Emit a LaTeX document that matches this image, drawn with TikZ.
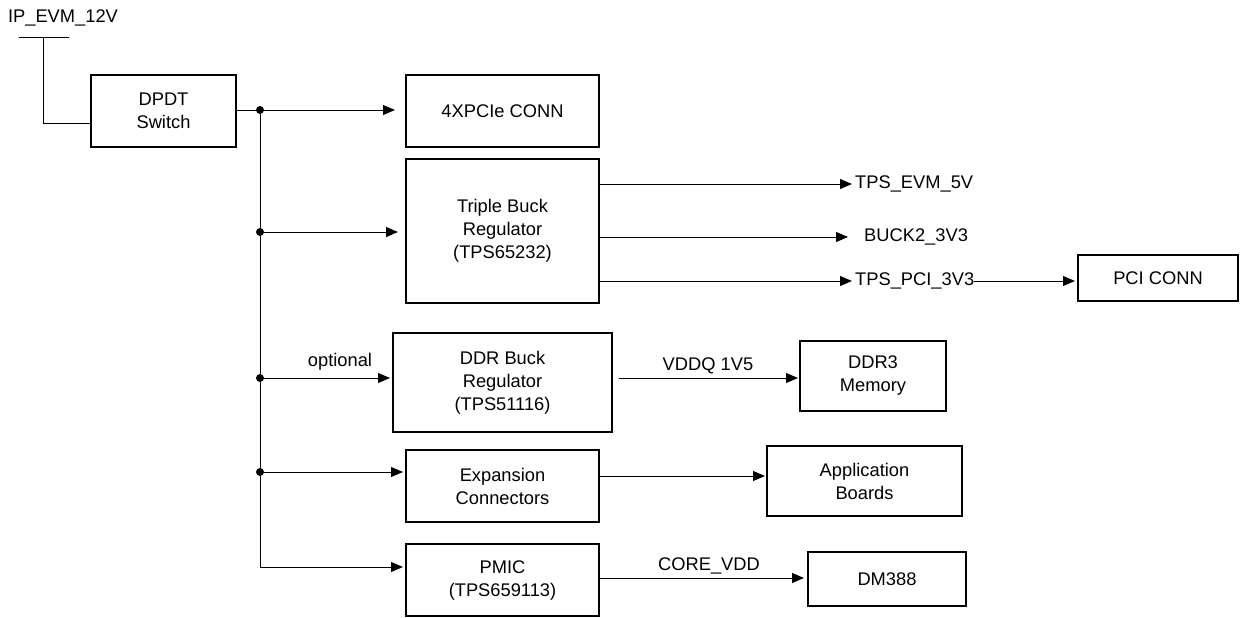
\documentclass[tikz,border=0pt]{standalone}
\usepackage{fontspec}
\setmainfont{Liberation Sans}
\usetikzlibrary{arrows.meta}
\begin{document}
\begin{tikzpicture}[x=1pt,y=-1pt,
  every node/.style={font=\fontsize{18.3}{23}\selectfont},
  box/.style={draw,line width=2pt,inner sep=0pt,outer sep=0pt,align=center},
  wire/.style={line width=1pt},
  arr/.style={wire,-{Triangle[length=12pt,width=10pt]}},
  dot/.style={circle,fill,inner sep=0pt,minimum size=8pt},
  lab/.style={inner sep=0pt}]
\useasboundingbox (0,0) rectangle (1240,618);

% boxes
\node[box,minimum width=145pt,minimum height=72pt] (dpdt) at (163.5,111) {DPDT\\Switch};
\node[box,minimum width=193pt,minimum height=72pt] (pcie) at (502.5,111) {4XPCIe CONN};
\node[box,minimum width=193pt,minimum height=144pt] (tbuck) at (502.5,231) {Triple Buck\\Regulator\\(TPS65232)};
\node[box,minimum width=160pt,minimum height=46pt] (pci) at (1158,278) {PCI CONN};
\node[box,minimum width=219pt,minimum height=99pt] (ddr) at (502.5,382.5) {DDR Buck\\Regulator\\(TPS51116)};
\node[box,minimum width=146pt,minimum height=70pt] (ddr3) at (873,376) {DDR3\\Memory};
\node[box,minimum width=193pt,minimum height=72pt] (exp) at (502.5,486) {Expansion\\Connectors};
\node[box,minimum width=195pt,minimum height=70pt] (app) at (864.5,481) {Application\\Boards};
\node[box,minimum width=193pt,minimum height=72pt] (pmic) at (502.5,580) {PMIC\\(TPS659113)};
\node[box,minimum width=158pt,minimum height=54pt] (dm) at (887,579) {DM388};

% input
\node[lab] (ipl) at (63,18) {IP\_EVM\_12V};
\coordinate (inL) at (19,38);
\coordinate (inR) at (69,38);
\coordinate (inT) at (43,38);
\coordinate (inB) at (43,123);
\draw[wire] (inL) -- (inR);
\draw[wire] (inT) -- (inB) -- (dpdt.west |- inB);

% bus
\node[dot] (j0) at (260,110) {};
\node[dot] (j1) at (260,232) {};
\node[dot] (j2) at (260,378) {};
\node[dot] (j3) at (260,472) {};
\coordinate (jb) at (260,567);
\draw[wire] (dpdt.east |- j0) -- (j0.center);
\draw[wire] (j0.center) -- (jb);
\draw[arr,shorten >=11pt] (j0.center) -- (pcie.west |- j0);
\draw[arr,shorten >=8pt] (j1.center) -- (tbuck.west |- j1);
\draw[arr,shorten >=3pt] (j2.center) -- (ddr.west |- j2);
\draw[arr,shorten >=3pt] (j3.center) -- (exp.west |- j3);
\draw[arr,shorten >=3pt] (jb) -- (pmic.west |- jb);
\node[lab] (opt) at (340,362) {optional};

% triple buck outputs
\node[lab,anchor=west] (o1) at (855,184) {TPS\_EVM\_5V};
\node[lab,anchor=west] (o2) at (864,237) {BUCK2\_3V3};
\node[lab,anchor=west] (o3) at (855,281) {TPS\_PCI\_3V3};
\draw[arr,shorten >=3pt] (tbuck.east |- o1) -- (o1.west);
\draw[arr,shorten >=16pt] (tbuck.east |- o2) -- (o2.west);
\draw[arr,shorten >=3pt] (tbuck.east |- o3) -- (o3.west);
\draw[arr,shorten >=3pt] (o3.east) -- (pci.west |- o3);

% DDR
\draw[arr,shorten <=7pt,shorten >=2pt] (ddr.east |- j2) -- (ddr3.west |- j2);
\node[lab] (vddq) at (708,366) {VDDQ 1V5};

% expansion
\coordinate (ea) at (599,476);
\draw[arr,shorten >=2pt] (exp.east |- ea) -- (app.west |- ea);

% PMIC
\coordinate (pa) at (599,578);
\draw[arr,shorten >=4pt] (pmic.east |- pa) -- (dm.west |- pa);
\node[lab] (core) at (709,566) {CORE\_VDD};
\end{tikzpicture}
\end{document}
